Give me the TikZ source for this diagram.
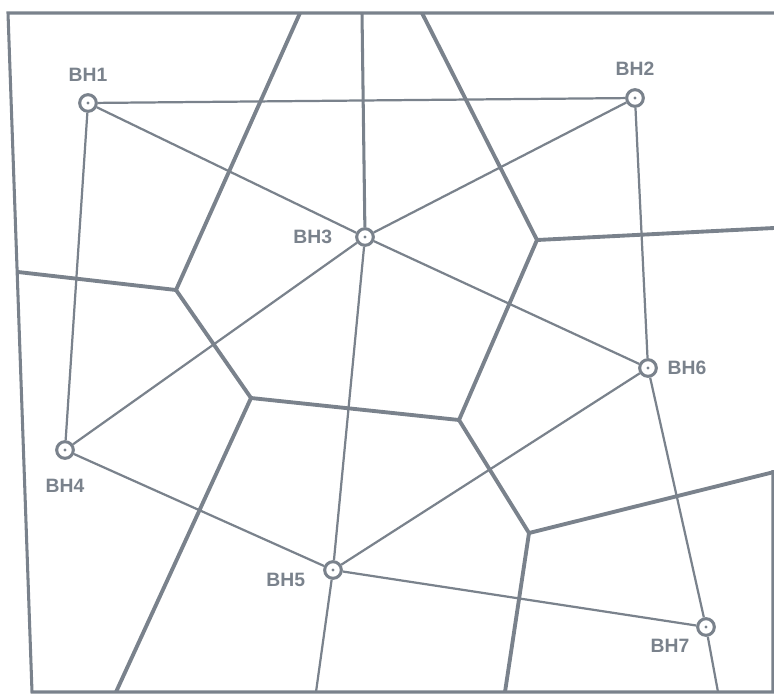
\documentclass[tikz,border=0pt]{standalone}
\usepackage{fontspec}
\setmainfont{Liberation Sans}
\usetikzlibrary{positioning}

\definecolor{gc}{RGB}{122,130,140}

\begin{document}
\begin{tikzpicture}[
  x=0.03cm,y=-0.03cm,
  font=\fontsize{16.5}{18}\selectfont\bfseries,
  frame/.style={draw=gc,line width=2.6pt},
  tri/.style={draw=gc,line width=1.9pt},
  vor/.style={draw=gc,line width=3.3pt,line join=round},
  bh/.style={circle,draw=gc,line width=2.6pt,fill=white,minimum size=0.5cm,inner sep=0pt,
             path picture={\fill[gc] (path picture bounding box.center) circle (0.05cm);}},
  lab/.style={text=gc,inner sep=1pt}
]
\useasboundingbox (0,0) rectangle (774,695);

% ---- cadrul ----
\draw[frame] (774,13) -- (8,13) -- (32,692) -- (773,692) -- (773,470);

% ---- varfurile Voronoi ----
\coordinate (v1) at (176,290);
\coordinate (v2) at (251,398);
\coordinate (v3) at (459,420);
\coordinate (v4) at (537,240);
\coordinate (v5) at (529,533);

% capetele pe margine
\coordinate (e1) at (300,13);
\coordinate (e2) at (18,272);
\coordinate (e3) at (116,692);
\coordinate (e4) at (422,13);
\coordinate (e5) at (774,228);
\coordinate (e6) at (774,472);
\coordinate (e7) at (505,692);

% ---- muchiile Voronoi ----
\draw[vor] (e1) -- (v1) -- (v2) -- (v3) -- (v4) -- (e4);
\draw[vor] (e2) -- (v1);
\draw[vor] (v2) -- (e3);
\draw[vor] (v4) -- (e5);
\draw[vor] (v3) -- (v5) -- (e6);
\draw[vor] (v5) -- (e7);

% ---- forajele ----
\node[bh] (bh1) at (88,103) {};
\node[bh] (bh2) at (635,98) {};
\node[bh] (bh3) at (365,237) {};
\node[bh] (bh4) at (65,450) {};
\node[bh] (bh5) at (333,570) {};
\node[bh] (bh6) at (648,368) {};
\node[bh] (bh7) at (706,627) {};

\node[lab,above=0.3cm of bh1] (l1) {BH1};
\node[lab,above=0.35cm of bh2] (l2) {BH2};
\node[lab,left=0.65cm of bh3] (l3) {BH3};
\node[lab,below=0.55cm of bh4] (l4) {BH4};
\node[lab,left=0.5cm of bh5,yshift=-0.3cm] (l5) {BH5};
\node[lab,right=0.25cm of bh6] (l6) {BH6};
\node[lab,below left=0.1cm and 0.25cm of bh7] (l7) {BH7};

% ---- triangulatia ----
\coordinate (t3) at (362,13);
\coordinate (t5) at (316,692);
\coordinate (t7) at (718,692);

\draw[tri] (bh1) -- (bh2);
\draw[tri] (bh1) -- (bh3);
\draw[tri] (bh1) -- (bh4);
\draw[tri] (bh2) -- (bh3);
\draw[tri] (bh2) -- (bh6);
\draw[tri] (bh3) -- (bh4);
\draw[tri] (bh3) -- (bh6);
\draw[tri] (bh3) -- (bh5);
\draw[tri] (bh4) -- (bh5);
\draw[tri] (bh5) -- (bh6);
\draw[tri] (bh5) -- (bh7);
\draw[tri] (bh6) -- (bh7);
\draw[vor,line width=2.6pt] (bh3) -- (t3);
\draw[tri] (bh5) -- (t5);
\draw[tri] (bh7) -- (t7);

\end{tikzpicture}
\end{document}
